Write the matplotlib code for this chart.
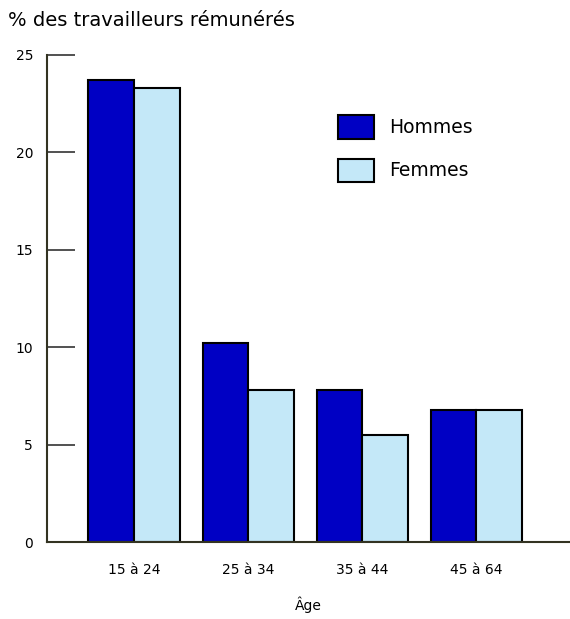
import matplotlib
matplotlib.use("Agg")
import matplotlib.pyplot as plt
import numpy as np
from matplotlib.patches import Patch

categories = ["15 à 24", "25 à 34", "35 à 44", "45 à 64"]
hommes = [23.7, 10.2, 7.8, 6.8]
femmes = [23.3, 7.8, 5.5, 6.8]
yticks = [0, 5, 10, 15, 20, 25]

plt.rcParams['font.family'] = ['DejaVu Sans']

dark = "#0000c4"
light = "#c4e8f8"

fig = plt.figure(figsize=(5.7, 6.19), dpi=100)
ax = fig.add_axes([47/570, 1-542/619, 1-47/570, (542-55)/619])

x = np.arange(len(categories))
w = 0.4
ax.bar(x - w/2, hommes, w, color=dark, edgecolor="black", linewidth=1.5, label="Hommes")
ax.bar(x + w/2, femmes, w, color=light, edgecolor="black", linewidth=1.5, label="Femmes")

ax.set_ylim(0, 25)
ax.set_xlim(-0.763, 3.82)
ax.set_yticks(yticks)
ax.set_yticklabels([str(t) for t in yticks], fontsize=10)
ax.set_xticks(x)
ax.set_xticklabels(categories, fontsize=10)
ax.tick_params(axis='y', direction='in', length=20, width=1.2, pad=10, color="#333333")
ax.tick_params(axis='x', length=0, pad=15)
for s in ['top', 'right']:
    ax.spines[s].set_visible(False)
for s in ['left', 'bottom']:
    ax.spines[s].set_linewidth(1.5)
    ax.spines[s].set_color("#333322")

ax.set_xlabel("Âge", fontsize=10, labelpad=14)
fig.text(8/570, 1-20/619, "% des travailleurs rémunérés", fontsize=14, va="center", ha="left")

handles = [Patch(facecolor=dark, edgecolor="black", linewidth=1.5, label="Hommes"),
           Patch(facecolor=light, edgecolor="black", linewidth=1.5, label="Femmes")]
ax.legend(handles=handles, loc="upper left", bbox_to_anchor=(0.556, 0.876), frameon=False,
          fontsize=13.5, handlelength=1.95, handleheight=1.55, labelspacing=1.05,
          handletextpad=0.8, borderpad=0, borderaxespad=0)

fig.savefig("out.png", dpi=100)
